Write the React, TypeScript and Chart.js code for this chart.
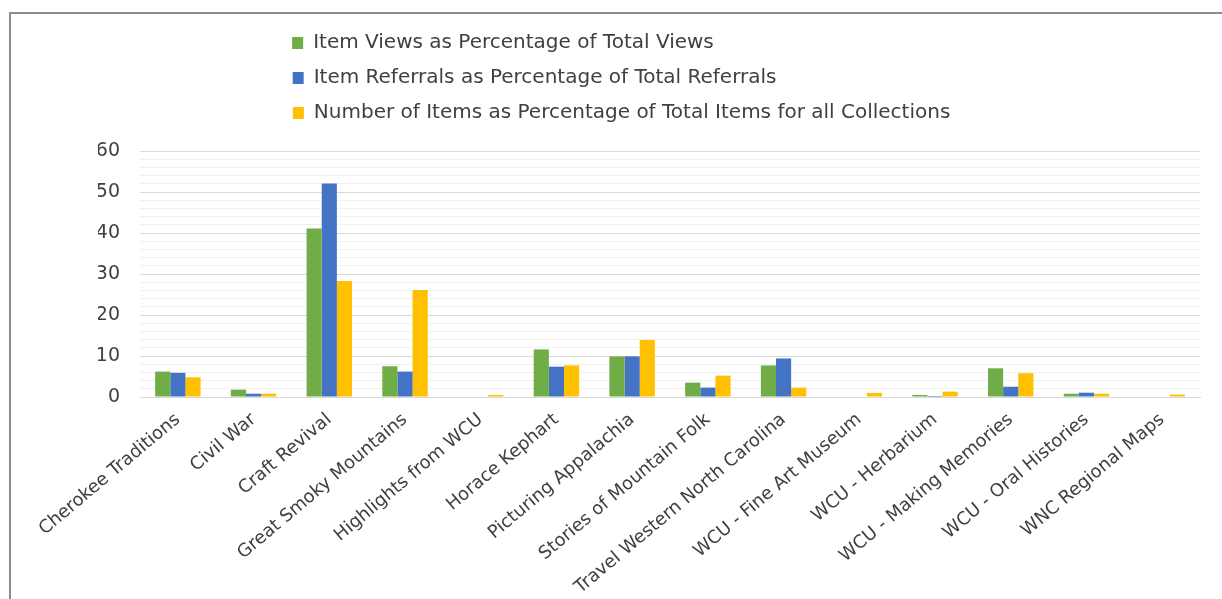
import React, { useEffect, useRef } from 'react';
import { Chart, registerables } from 'chart.js';

Chart.register(...registerables);

const categories = [
  'Cherokee Traditions',
  'Civil War',
  'Craft Revival',
  'Great Smoky Mountains',
  'Highlights from WCU',
  'Horace Kephart',
  'Picturing Appalachia',
  'Stories of Mountain Folk',
  'Travel Western North Carolina',
  'WCU - Fine Art Museum',
  'WCU - Herbarium',
  'WCU - Making Memories',
  'WCU - Oral Histories',
  'WNC Regional Maps',
];

const viewsPct = [6.2, 1.8, 41.1, 7.5, 0, 11.6, 9.9, 3.5, 7.7, 0, 0.5, 7.0, 0.8, 0];
const referralsPct = [5.9, 0.8, 52.1, 6.2, 0, 7.4, 9.9, 2.3, 9.4, 0, 0.25, 2.5, 1.05, 0];
const itemsPct = [4.8, 0.8, 28.3, 26.1, 0.5, 7.7, 13.9, 5.2, 2.3, 1.0, 1.3, 5.8, 0.8, 0.6];

const seriesNames = [
  'Item Views as Percentage of Total Views',
  'Item Referrals as Percentage of Total Referrals',
  'Number of Items as Percentage of Total Items for all Collections',
];
const seriesColors = ['#70AD47', '#4472C4', '#FFC000'];

const yMin = 0;
const yMax = 60;
const yMinorStep = 2;
const yMajorStep = 10;

const FONT = "'DejaVu Sans', sans-serif";
const LEGEND_FONT_SIZE = 20;
const LEGEND_PAD_TO = 693;

export default function App() {
  const canvasRef = useRef<HTMLCanvasElement | null>(null);

  useEffect(() => {
    const canvas = canvasRef.current;
    if (!canvas) return;

    const measureCtx = document.createElement('canvas').getContext('2d')!;
    measureCtx.font = `${LEGEND_FONT_SIZE}px ${FONT}`;
    const padText = (t: string) => {
      let s = t;
      while (measureCtx.measureText(s + ' ').width <= LEGEND_PAD_TO) s += ' ';
      while (measureCtx.measureText(s + '\u200A').width <= LEGEND_PAD_TO) s += '\u200A';
      return s;
    };

    const legendSpacing = {
      id: 'legendSpacing',
      beforeInit(chart: any) {
        const origFit = chart.legend.fit;
        chart.legend.fit = function fit() {
          origFit.bind(chart.legend)();
          this.height += 18;
        };
      },
    };

    const chart = new Chart(canvas, {
      type: 'bar',
      data: {
        labels: categories,
        datasets: [viewsPct, referralsPct, itemsPct].map((d, i) => ({
          label: seriesNames[i],
          data: d,
          backgroundColor: seriesColors[i],
          borderWidth: 0,
          categoryPercentage: 0.6,
          barPercentage: 1.0,
        })),
      },
      options: {
        responsive: false,
        animation: false,
        devicePixelRatio: 1,
        layout: { padding: { left: 87, right: 22, top: 4, bottom: 0 } },
        plugins: {
          tooltip: { enabled: false },
          legend: {
            position: 'top',
            align: 'center',
            labels: {
              boxWidth: 11,
              boxHeight: 12,
              padding: 15,
              color: '#404040',
              font: { family: FONT, size: LEGEND_FONT_SIZE },
              generateLabels(chart: any) {
                const items = Chart.defaults.plugins.legend.labels.generateLabels(chart);
                return items.map((it: any) => ({ ...it, text: padText(it.text), lineWidth: 0 }));
              },
            },
          },
        },
        scales: {
          x: {
            grid: { display: false },
            border: { display: true, color: '#d9d9d9' },
            afterFit: (scale: any) => {
              scale.paddingLeft = 0;
              scale.paddingRight = 0;
              scale.height = 202;
            },
            ticks: {
              autoSkip: false,
              maxRotation: 40,
              minRotation: 40,
              padding: 4,
              color: '#404040',
              font: { family: FONT, size: 18 },
            },
          },
          y: {
            min: yMin,
            max: yMax,
            border: { display: false },
            afterFit: (scale: any) => {
              scale.width = 42;
              scale.paddingTop = 0;
              scale.paddingBottom = 0;
            },
            grid: {
              drawTicks: false,
              color: (ctx: any) =>
                ctx.tick && ctx.tick.value % yMajorStep === 0 ? '#d9d9d9' : '#f0f0f0',
            },
            ticks: {
              stepSize: yMinorStep,
              autoSkip: false,
              padding: 20,
              color: '#404040',
              font: { family: FONT, size: 19 },
              callback: (v: any) => (Number(v) % yMajorStep === 0 ? String(v) : ''),
            },
          },
        },
      },
      plugins: [legendSpacing],
    });

    return () => chart.destroy();
  }, []);

  return (
    <div
      style={{
        position: 'fixed',
        left: 9,
        top: 12,
        width: 1213,
        height: 587,
        borderLeft: '2px solid #8c8c8c',
        borderTop: '2px solid #8c8c8c',
        boxSizing: 'border-box',
        background: '#ffffff',
        overflow: 'hidden',
      }}
    >
      <canvas ref={canvasRef} width={1211} height={585} style={{ display: 'block' }} />
    </div>
  );
}
